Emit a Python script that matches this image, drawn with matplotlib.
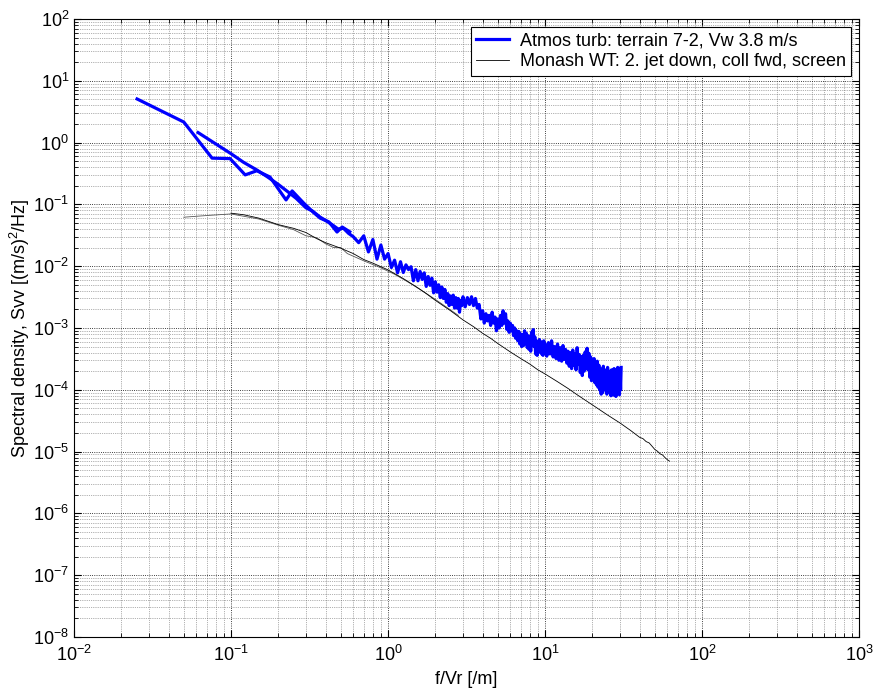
import matplotlib
matplotlib.use('Agg')
import matplotlib.pyplot as plt
from matplotlib.ticker import LogLocator, NullFormatter

plt.rcParams['font.family'] = ['Liberation Sans', 'DejaVu Sans']
plt.rcParams['mathtext.fontset'] = 'custom'
plt.rcParams['mathtext.rm'] = 'Liberation Sans'
plt.rcParams['mathtext.it'] = 'Liberation Sans'

# atmospheric turbulence, coarse low-frequency part
atm_lo_f = [0.0252, 0.05, 0.0757, 0.0986, 0.123, 0.146, 0.177, 0.224, 0.245,
            0.29, 0.333, 0.369, 0.42, 0.473, 0.51, 0.57]
atm_lo_s = [5.08, 2.15, 0.56, 0.55, 0.30, 0.35, 0.277, 0.118, 0.165,
            0.105, 0.075, 0.060, 0.052, 0.0357, 0.043, 0.036]

# atmospheric turbulence, fine part
atm_hi_f = [0.0617, 0.08, 0.1, 0.12, 0.146, 0.17, 0.2, 0.23, 0.26, 0.3,
            0.33, 0.37, 0.4, 0.44, 0.48, 0.52, 0.56,
            0.60, 0.65, 0.70, 0.75, 0.80, 0.85, 0.90, 0.95, 1.00, 1.05,
            1.10, 1.15, 1.20, 1.25, 1.30, 1.35, 1.40, 1.45, 1.50, 1.55,
            1.60, 1.65, 1.70, 1.75, 1.80, 1.85, 1.90, 1.95, 2.00, 2.05,
            2.10, 2.15, 2.20, 2.25, 2.30, 2.35, 2.40, 2.45, 2.50, 2.55,
            2.60, 2.65, 2.70, 2.75, 2.80, 2.85, 2.90, 2.95, 3.00,
            3.1, 3.2, 3.3, 3.4, 3.5, 3.6, 3.7, 3.8, 3.9, 4.0,
            4.1, 4.2, 4.3, 4.4, 4.5, 4.6, 4.7, 4.8, 4.9, 5.0,
            5.1, 5.2, 5.3, 5.4, 5.5, 5.6, 5.7, 5.8, 5.9, 6.0,
            6.1, 6.2, 6.3, 6.4, 6.5, 6.6, 6.7, 6.8, 6.9, 7.0,
            7.1, 7.2, 7.3, 7.4, 7.5, 7.6, 7.7, 7.8, 7.9, 8.0,
            8.1, 8.2, 8.3, 8.4, 8.5, 8.6, 8.7, 8.8, 8.9, 9.0,
            9.1, 9.2, 9.3, 9.4, 9.5, 9.6, 9.7, 9.8, 9.9, 10.0,
            10.25, 10.5, 10.75, 11.0, 11.25, 11.5, 11.75, 12.0, 12.25, 12.5,
            12.75, 13.0, 13.25, 13.5, 13.75, 14.0, 14.25, 14.5, 14.75, 15.0,
            15.25, 15.5, 15.75, 16.0, 16.25, 16.5, 16.75, 17.0, 17.25, 17.5,
            17.75, 18.0, 18.25, 18.5, 18.75, 19.0, 19.25, 19.5, 19.75, 20.0,
            20.25, 20.5, 20.75, 21.0, 21.25, 21.5, 21.75, 22.0, 22.25, 22.5,
            22.75, 23.0, 23.25, 23.5, 23.75, 24.0, 24.25, 24.5, 24.75, 25.0,
            25.25, 25.5, 25.75, 26.0, 26.25, 26.5, 26.75, 27.0, 27.25, 27.5,
            27.75, 28.0, 28.25, 28.5, 28.75, 29.0, 29.25, 29.5, 29.75, 30.0,
            30.25, 30.5]
atm_hi_s = [1.45, 0.95, 0.66, 0.48, 0.36, 0.28, 0.21, 0.16, 0.125, 0.088,
            0.078, 0.062, 0.055, 0.047, 0.040, 0.041, 0.034,
            0.030, 0.024, 0.031, 0.017, 0.027, 0.013, 0.022, 0.013, 0.016, 0.0095,
            0.0125, 0.0078, 0.0118, 0.0079, 0.0105, 0.0088, 0.0098, 0.0058, 0.0088, 0.0058,
            0.0082, 0.0061, 0.0078, 0.0047, 0.0068, 0.0049, 0.0064, 0.0037, 0.0056, 0.0038,
            0.0050, 0.0031, 0.0046, 0.0030, 0.0042, 0.0026, 0.0036, 0.0023, 0.0033, 0.0024,
            0.0034, 0.0021, 0.0031, 0.0021, 0.0030, 0.0018, 0.0028, 0.0023, 0.0032,
            0.0022, 0.0031, 0.0024, 0.0032, 0.0023, 0.0030, 0.0021, 0.0024, 0.0014, 0.0019,
            0.0012, 0.0017, 0.0013, 0.0016, 0.0011, 0.0018, 0.0012, 0.0015, 0.0009, 0.0014,
            0.0010, 0.0016, 0.0011, 0.0019, 0.0012, 0.0017, 0.00095, 0.0013, 0.00085, 0.0012,
            0.0009, 0.0011, 0.00075, 0.0010, 0.00068, 0.0009, 0.00062, 0.00088, 0.00055, 0.0008,
            0.0005, 0.00078, 0.00052, 0.0009, 0.00058, 0.00082, 0.00048, 0.00075, 0.00045, 0.00068,
            0.00042, 0.00085, 0.00052, 0.00094, 0.0005, 0.00072, 0.00038, 0.00062, 0.00036, 0.00058,
            0.0004, 0.00065, 0.00042, 0.0006, 0.00038, 0.00056, 0.00036, 0.00062, 0.0004, 0.00055,
            0.00035, 0.00058, 0.00038, 0.00062, 0.00034, 0.0005, 0.00032, 0.00055, 0.0003, 0.00048,
            0.00029, 0.00052, 0.00031, 0.00045, 0.00027, 0.00042, 0.00024, 0.0004, 0.00022, 0.00044,
            0.00025, 0.00038, 0.00021, 0.00048, 0.00026, 0.00037, 0.00019, 0.00034, 0.00017, 0.00036,
            0.0002, 0.00041, 0.00022, 0.00047, 0.00021, 0.00039, 0.00016, 0.00034, 0.00014, 0.00029,
            0.00015, 0.00032, 0.00013, 0.00027, 0.00012, 0.00029, 0.00011, 0.00025, 0.0001, 0.00022,
            0.000085, 0.00018, 0.00009, 0.00024, 0.0001, 0.00021, 0.00011, 0.00019, 0.000085, 0.00023,
            0.00012, 0.0002, 0.00009, 0.00017, 0.00008, 0.00021, 0.00011, 0.00018, 0.000082, 0.00022,
            0.0001, 0.00019, 0.000078, 0.00021, 0.00009, 0.00023, 0.00011, 0.00018, 0.000083, 0.00022,
            0.0001, 0.00023]

# wind tunnel, coarse part
wt_lo_f = [0.05, 0.07, 0.1, 0.15, 0.2, 0.25, 0.3, 0.35, 0.4, 0.45, 0.5, 0.55,
           0.7, 0.9, 1.1, 1.3, 1.6, 2.0, 2.4, 2.8]
wt_lo_s = [0.062, 0.066, 0.070, 0.058, 0.046, 0.039, 0.031, 0.029, 0.023, 0.020, 0.020, 0.016,
           0.0122, 0.0094, 0.0074, 0.0058, 0.0042, 0.0029, 0.0021, 0.0016]

# wind tunnel, fine part
wt_hi_f = [0.1, 0.12, 0.15, 0.2, 0.25, 0.3, 0.35, 0.4, 0.5, 0.6, 0.7, 0.8, 0.9,
           1.0, 1.25, 1.5, 1.75, 2.0, 2.5, 3.0, 3.5, 4.0, 4.5, 5.0, 6.0, 7.0,
           8.0, 9.0, 10, 12, 14, 16, 18, 20, 25, 30, 35, 40, 42, 44, 46, 48,
           50, 52, 54, 56, 58, 60, 62]
wt_hi_s = [0.072, 0.068, 0.060, 0.047, 0.041, 0.035, 0.028, 0.024, 0.0195, 0.016, 0.0128, 0.0112, 0.0098,
           0.0087, 0.0063, 0.0047, 0.0036, 0.0028, 0.0019, 0.00135, 0.00105, 0.00082, 0.00068, 0.00056, 0.00041, 0.00032,
           0.00026, 0.00021, 0.00018, 0.000135, 0.000105, 0.000083, 0.000068, 0.000057, 0.000039, 0.000029, 0.000022, 0.000017,
           0.0000162, 0.0000145, 0.0000138, 0.0000122, 0.0000108, 0.0000101, 0.0000092, 0.0000088, 0.0000080, 0.0000074, 0.0000070]

fig = plt.figure(figsize=(8.74, 6.95), dpi=100)
ax = fig.add_axes([0.0847, 0.0835, 0.8983, 0.8892])

ax.loglog(atm_lo_f, atm_lo_s, color='#0000ff', lw=2.3,
          label='Atmos turb: terrain 7-2, Vw 3.8 m/s')
ax.loglog(atm_hi_f, atm_hi_s, color='#0000ff', lw=2.3)
ax.loglog(wt_lo_f, wt_lo_s, color='#555555', lw=0.6)
ax.loglog(wt_hi_f, wt_hi_s, color='k', lw=0.6,
          label='Monash WT: 2. jet down, coll fwd, screen')

ax.set_xlim(1e-2, 1e3)
ax.set_ylim(1e-8, 1e2)
ax.xaxis.set_major_locator(LogLocator(base=10, numticks=20))
ax.yaxis.set_major_locator(LogLocator(base=10, numticks=20))
ax.xaxis.set_minor_locator(LogLocator(base=10, subs=range(2, 10), numticks=20))
ax.yaxis.set_minor_locator(LogLocator(base=10, subs=range(2, 10), numticks=20))
ax.xaxis.set_minor_formatter(NullFormatter())
ax.yaxis.set_minor_formatter(NullFormatter())

ax.grid(which='major', linestyle=':', color='k', lw=0.6)
ax.grid(which='minor', linestyle=':', color='#666666', lw=0.5)
ax.tick_params(which='both', direction='in', top=True, right=True, labelsize=13)
ax.tick_params(which='major', length=5)
ax.tick_params(which='minor', length=3)
ax.tick_params(axis='x', pad=6)
for s in ax.spines.values():
    s.set_linewidth(0.8)

ax.set_xlabel('f/Vr [/m]', fontsize=13, labelpad=4)
ax.set_ylabel('Spectral density, Svv [(m/s)$^2$/Hz]', fontsize=13, labelpad=1)

leg = ax.legend(loc='upper right', fontsize=13, fancybox=False, framealpha=1,
                edgecolor='k', borderaxespad=0.45, handlelength=1.8,
                handletextpad=0.6, borderpad=0.3, labelspacing=0.2)
leg.get_frame().set_linewidth(0.8)

fig.savefig('out.png', dpi=100)
